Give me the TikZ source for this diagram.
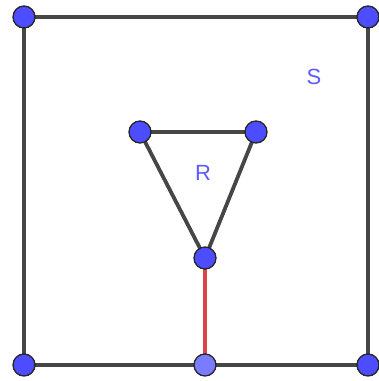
\documentclass[tikz,border=0pt]{standalone}
\usepackage{fontspec}
\setmainfont{Liberation Sans}
\usetikzlibrary{positioning}
\definecolor{ptBlue}{HTML}{4D4DFF}
\definecolor{ptLight}{HTML}{7B7BFF}
\definecolor{edgeGrey}{HTML}{464646}
\definecolor{segRed}{HTML}{DC4545}
\definecolor{lblBlue}{HTML}{5C5CFF}
\tikzset{
  pt/.style    = {circle, draw=black!85, fill=ptBlue, line width=1.3pt,
                  minimum size=22pt, inner sep=0pt},
  ptl/.style   = {pt, fill=ptLight},
  edge/.style  = {draw=edgeGrey, line width=3.8pt},
  redseg/.style= {draw=segRed, line width=3.6pt},
  lbl/.style   = {font=\fontsize{22}{25}\selectfont, text=lblBlue, inner sep=0pt}
}
\begin{document}
\begin{tikzpicture}[x=1pt, y=-1pt]
  \useasboundingbox (0,0) rectangle (379,381);
  % outer square S
  \coordinate (a) at (24,17);
  \coordinate (b) at (368,17);
  \coordinate (c) at (368,365);
  \coordinate (d) at (24,365);
  \coordinate (m) at (205,365);
  % triangle R
  \coordinate (p) at (140,132);
  \coordinate (q) at (256,132);
  \coordinate (r) at (205,258);
  \draw[edge] (a) -- (b) -- (c) -- (d) -- cycle;
  \draw[edge] (p) -- (q) -- (r) -- cycle;
  \draw[redseg] (r) -- (m);
  \foreach \n in {a,b,c,d,p,q,r} \node[pt] (\n pt) at (\n) {};
  \node[ptl] (mpt) at (m) {};
  \node[lbl] (S) at (314,77) {S};
  \node[lbl] (R) at (203,173) {R};
\end{tikzpicture}
\end{document}
